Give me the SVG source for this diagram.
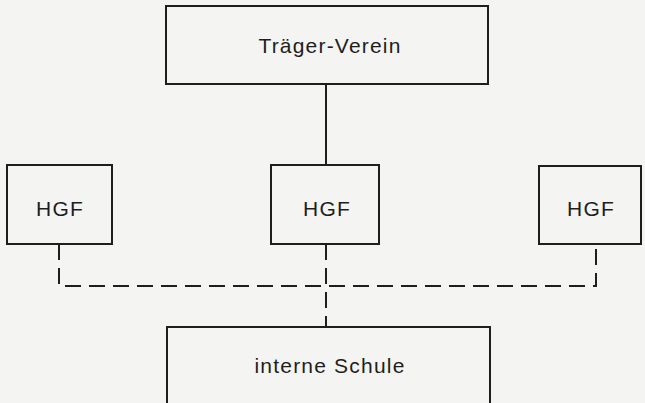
<svg xmlns="http://www.w3.org/2000/svg" width="645" height="403" viewBox="0 0 645 403">
<style>
.box{fill:none;stroke:#1e1e1e;stroke-width:2}
.lbl{font-family:"Liberation Sans",Arial,sans-serif;font-size:21px;letter-spacing:1.2px;fill:#1e1e1e;text-anchor:middle}
.solid{stroke:#1e1e1e;stroke-width:2;fill:none}
.dash{stroke:#1e1e1e;stroke-width:2;fill:none;stroke-dasharray:16 8}
</style>
<rect width="645" height="403" fill="#f4f4f2"/>
<g id="connectors">
<line class="solid" x1="326" y1="84" x2="326" y2="165"/>
<path class="dash" d="M59 244 V286 H596 V244"/>
<line class="dash" x1="326" y1="244" x2="326" y2="327"/>
</g>
<g id="traeger">
<rect class="box" x="166" y="6" width="322" height="78"/>
<text class="lbl" x="330" y="53">Träger-Verein</text>
</g>
<g id="hgf-left">
<rect class="box" x="7" y="165" width="105" height="79"/>
<text class="lbl" x="60" y="216">HGF</text>
</g>
<g id="hgf-mid">
<rect class="box" x="271" y="165" width="108" height="79"/>
<text class="lbl" x="327" y="216">HGF</text>
</g>
<g id="hgf-right">
<rect class="box" x="539" y="166" width="102" height="78"/>
<text class="lbl" x="591" y="216">HGF</text>
</g>
<g id="schule">
<rect class="box" x="167" y="327" width="323" height="90"/>
<text class="lbl" x="330" y="373">interne Schule</text>
</g>
</svg>
